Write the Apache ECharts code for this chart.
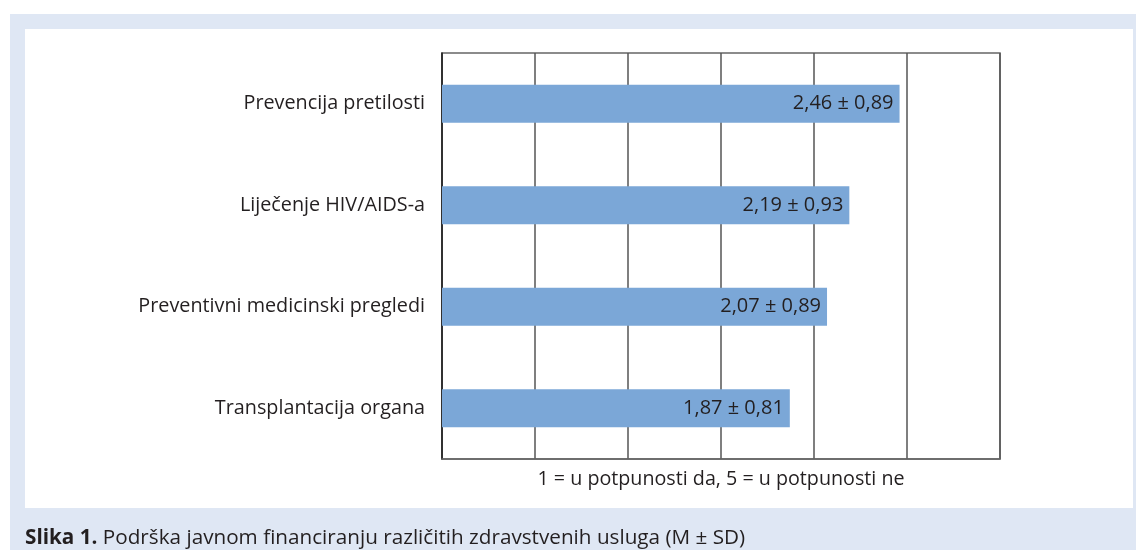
<!DOCTYPE html>
<html><head><meta charset="utf-8">
<script src="https://cdn.jsdelivr.net/npm/echarts@6/dist/echarts.min.js"></script>
<style>html,body{margin:0;padding:0;background:#fff}#c{width:1136px;height:550px}</style>
</head><body><div id="c"></div>
<script>
const categories = ['Prevencija pretilosti', 'Liječenje HIV/AIDS-a', 'Preventivni medicinski pregledi', 'Transplantacija organa'];
const means = [2.46, 2.19, 2.07, 1.87];
const sds = [0.89, 0.93, 0.89, 0.81];
const axisTitle = '1 = u potpunosti da, 5 = u potpunosti ne';
const captionBold = 'Slika 1.';
const captionText = ' Podrška javnom financiranju različitih zdravstvenih usluga (M ± SD)';

const fmt = v => v.toFixed(2).replace('.', ',');
const chart = echarts.init(document.getElementById('c'), null, {renderer: 'canvas'});
const font = '"Open Sans", "Noto Sans", sans-serif';
chart.setOption({
  animation: false,
  textStyle: {fontFamily: font},
  graphic: [
    {type: 'rect', z: -10, shape: {x: 10, y: 14, width: 1126, height: 536}, style: {fill: '#dfe7f4'}},
    {type: 'rect', z: -9, shape: {x: 25, y: 29, width: 1108, height: 479}, style: {fill: '#ffffff'}},
    {type: 'text', left: 25, top: 528, style: {
      text: '{b|' + captionBold + '}{n|' + captionText + '}',
      rich: {
        b: {fontFamily: font, fontSize: 20.7, fontWeight: 'bold', fill: '#231f20'},
        n: {fontFamily: font, fontSize: 20.7, fill: '#231f20'}
      }
    }}
  ],
  grid: {left: 442, right: 136, top: 53, bottom: 91, show: true, borderColor: '#666', borderWidth: 1.5, backgroundColor: 'transparent'},
  xAxis: {
    type: 'value', min: 0, max: 3, interval: 0.5,
    axisLabel: {show: false}, axisTick: {show: false},
    axisLine: {show: true, lineStyle: {color: '#666', width: 1.5}},
    splitLine: {show: true, lineStyle: {color: '#555', width: 1.5}},
    name: axisTitle, nameLocation: 'middle', nameGap: 10,
    nameTextStyle: {fontFamily: font, fontSize: 19.7, color: '#231f20', verticalAlign: 'top'}
  },
  yAxis: {
    type: 'category', data: categories, inverse: true,
    axisLine: {show: true, lineStyle: {color: '#222', width: 1.5}},
    axisTick: {show: false},
    axisLabel: {fontFamily: font, fontSize: 19.8, color: '#231f20', margin: 17}
  },
  series: [{
    type: 'bar', data: means, barWidth: 38,
    itemStyle: {color: '#7ba7d7'},
    label: {show: true, position: 'insideRight', distance: 6, fontFamily: font, fontSize: 20, color: '#231f20',
      formatter: p => fmt(p.value) + ' ± ' + fmt(sds[p.dataIndex])}
  }]
});
</script></body></html>
